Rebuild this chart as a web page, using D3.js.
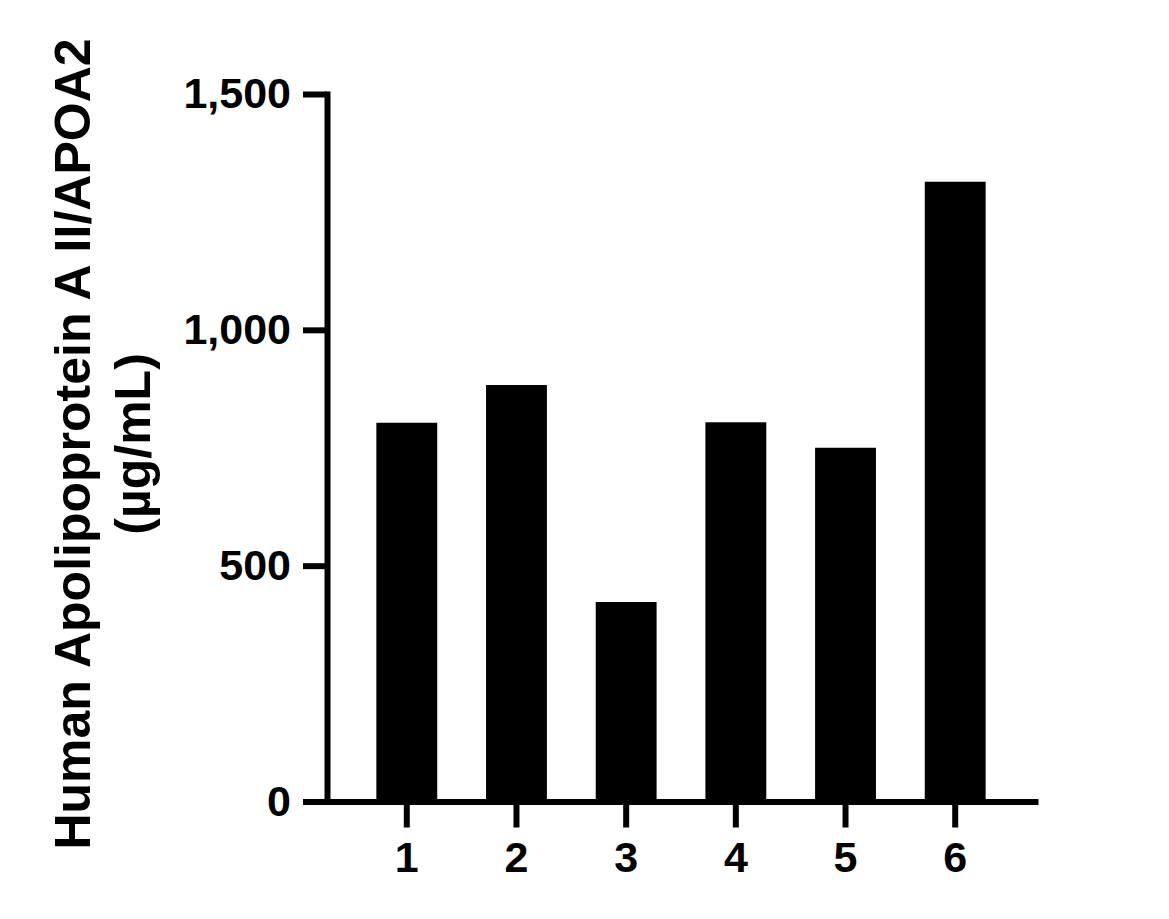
<!DOCTYPE html>
<html>
<head>
<meta charset="utf-8">
<script src="https://cdn.jsdelivr.net/npm/d3@7"></script>
<style>
  body { margin: 0; background: #fff; }
  svg { display: block; }
  text { font-family: "Liberation Sans", Arial, sans-serif; font-weight: bold; }
</style>
</head>
<body>
<script>
var categories = ["1", "2", "3", "4", "5", "6"];
var values = [803, 883, 423, 804, 750, 1314];
var yTicks = [0, 500, 1000, 1500];
var yTitle = ["Human Apolipoprotein A II/APOA2", "(\u00b5g/mL)"];

var canvas = d3.select("body").append("svg")
    .attr("width", 1169)
    .attr("height", 919);

var x = d3.scaleBand()
    .domain(categories)
    .range([327, 1035])
    .paddingInner(0.445)
    .paddingOuter(0.45);

var y = d3.scaleLinear()
    .domain([0, 1500])
    .range([801.5, 94]);

// bars
canvas.selectAll("rect")
    .data(values)
    .enter()
    .append("rect")
    .attr("x", function(d, i){ return x(categories[i]); })
    .attr("width", x.bandwidth())
    .attr("y", function(d){ return y(d); })
    .attr("height", function(d){ return y(0) - y(d); })
    .attr("fill", "#000");

// y axis
var yAxis = canvas.append("g")
    .attr("transform", "translate(327,0)")
    .call(d3.axisLeft(y)
        .tickValues(yTicks)
        .tickFormat(d3.format(","))
        .tickSize(24)
        .tickSizeOuter(0)
        .tickPadding(12));

// x axis
var xAxis = canvas.append("g")
    .attr("transform", "translate(0,801.5)")
    .call(d3.axisBottom(x)
        .tickSize(26)
        .tickSizeOuter(0)
        .tickPadding(14));

canvas.selectAll(".domain, .tick line")
    .attr("stroke", "#000")
    .attr("stroke-width", 6)
    .attr("stroke-linecap", "square");

canvas.selectAll(".tick line").attr("stroke-linecap", "butt");

canvas.selectAll(".tick text")
    .attr("fill", "#000")
    .style("font-size", "43px");

// y title, two lines rotated
var title = canvas.append("text")
    .attr("transform", "translate(90,444) rotate(-90)")
    .attr("text-anchor", "middle")
    .style("font-size", "50px")
    .attr("fill", "#000");

title.selectAll("tspan")
    .data(yTitle)
    .enter()
    .append("tspan")
    .attr("x", 0)
    .attr("y", function(d, i){ return i * 60; })
    .text(function(d){ return d; });
</script>
</body>
</html>
